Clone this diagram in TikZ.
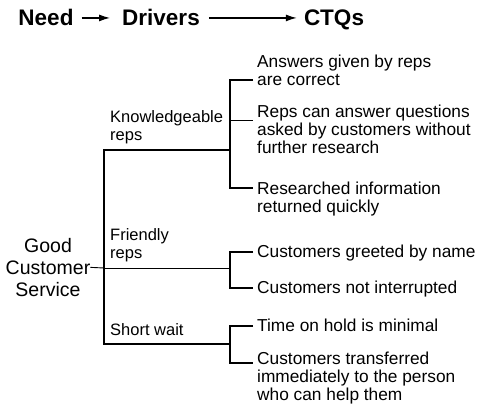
\documentclass[tikz,border=0pt]{standalone}
\usepackage{fontspec}
\setmainfont{Liberation Sans}
\usetikzlibrary{calc,arrows.meta}
\newcommand{\unitsize}{1pt}
% bracket joining the CTQs of one driver: top tick, spine, bottom tick
\newcommand{\ctqbracket}[2]{
	\draw[heavy] ($(#1)+(23,0)$) -- (#1) -- (#2) -- ($(#2)+(23,0)$);
}
\tikzset{
	heading/.style={font=\fontsize{22.5}{26}\selectfont\bfseries, inner sep=0pt, anchor=base},
	driver/.style={font=\fontsize{16.5}{18}\selectfont, align=left, anchor=north west, inner sep=0pt},
	ctq/.style={font=\fontsize{17.3}{18}\selectfont, align=left, anchor=north west, inner sep=0pt},
	heavy/.style={line width=2pt},
	light/.style={line width=0.9pt},
	flow/.style={line width=1.2pt, -{Latex[length=11pt,width=7pt]}}
}

\begin{document}
\begin{tikzpicture}[x=\unitsize,y=-\unitsize]
	\useasboundingbox (0,0) rectangle (478,404);

	% heading row
	\node[heading] (need) at (46,26) {Need};
	\node[heading] (drivers) at (161,26) {Drivers};
	\node[heading] (ctqs) at (334,26) {CTQs};
	\draw[flow, shorten <=8pt, shorten >=12pt] (need.east) -- (drivers.west);
	\draw[flow, shorten <=9pt, shorten >=7pt] (drivers.east) -- (drivers.east -| ctqs.west);

	% the need
	\node[align=center, font=\fontsize{19.5}{22}\selectfont, inner sep=0pt, anchor=north] (service) at (48,238) {Good\\Customer\\Service};

	% drivers
	\coordinate (kn) at (104,150);
	\coordinate (fr) at (104,268);
	\coordinate (sw) at (104,344);
	\coordinate (knb) at (230,150);
	\coordinate (frb) at (230,268);
	\coordinate (swb) at (230,344);
	\node[driver] (knowledge) at (110,110) {Knowledgeable\\reps};
	\node[driver] (friendly) at (110,228) {Friendly\\reps};
	\node[driver] (wait) at (110,323) {Short wait};

	\draw[light] (service.east) -- (fr);
	\draw[heavy] (knb) -- (kn) -- (sw) -- (swb);
	\draw[light] (fr) -- (frb);

	% CTQs
	\coordinate (k1) at (230,80);
	\coordinate (k2) at (230,120);
	\coordinate (k3) at (230,188);
	\coordinate (f1) at (230,252);
	\coordinate (f2) at (230,288);
	\coordinate (w1) at (230,326);
	\coordinate (w2) at (230,363);
	\node[ctq] (answers) at (257,55) {Answers given by reps\\are correct};
	\node[ctq] (questions) at (257,105) {Reps can answer questions\\asked by customers without\\further research};
	\node[ctq] (researched) at (257,182) {Researched information\\returned quickly};
	\node[ctq] (greeted) at (257,245) {Customers greeted by name};
	\node[ctq] (interrupt) at (257,281) {Customers not interrupted};
	\node[ctq] (hold) at (257,319) {Time on hold is minimal};
	\node[ctq] (transfer) at (257,352) {Customers transferred\\immediately to the person\\who can help them};

	\ctqbracket{k1}{k3}
	\ctqbracket{f1}{f2}
	\ctqbracket{w1}{w2}
	\draw[light] (k2) -- ++(23,0);
\end{tikzpicture}
\end{document}
